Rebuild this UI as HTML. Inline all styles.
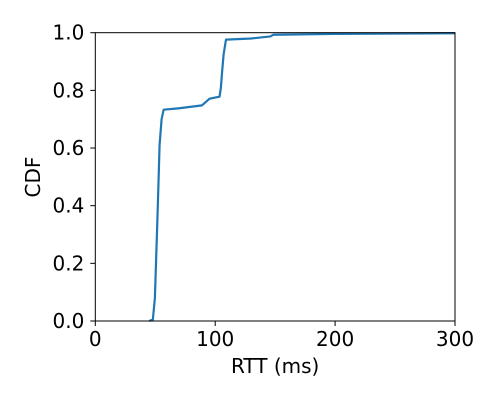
<!DOCTYPE html>
<html><head><meta charset="utf-8"><style>
html,body{margin:0;padding:0;background:#fff;}
svg{display:block;font-family:"DejaVu Sans","Liberation Sans",sans-serif;}
</style></head><body>
<svg id="chart" width="500" height="400">
<g id="plot"></g>
</svg>
<script>
const xValues=[45,48,49.7,52,53.6,55.3,57,70,89,95.3,103.6,104.7,105.8,107,109,130,146,148.6,200,300];
const yValues=[0,0.005,0.08,0.38,0.61,0.70,0.733,0.738,0.748,0.771,0.778,0.808,0.866,0.924,0.976,0.98,0.987,0.993,0.996,0.998];
const xTicks=[0,100,200,300];
const yTicks=["0.0","0.2","0.4","0.6","0.8","1.0"];
const L=95.3,R=455,T=32.7,B=321;
const sx=v=>L+(v-0)/(300-0)*(R-L);
const sy=v=>B-(v-0)/(1-0)*(B-T);
const NS="http://www.w3.org/2000/svg";
const g=document.getElementById('plot');
function mk(tag,attrs,parent){const e=document.createElementNS(NS,tag);for(const k in attrs)e.setAttribute(k,attrs[k]);(parent||g).appendChild(e);return e;}
let d=xValues.map((x,i)=>(i?'L':'M')+sx(x).toFixed(2)+','+sy(yValues[i]).toFixed(2)).join(' ');
const line=mk('path',{d:d,fill:'none',stroke:'#1f77b4','stroke-width':2.2,'stroke-linejoin':'round'});


const frame=mk('rect',{x:L,y:T,width:R-L,height:B-T,fill:'none',stroke:'#000','stroke-width':1});


xTicks.forEach(v=>{
  mk('line',{x1:sx(v),x2:sx(v),y1:B,y2:B+5,stroke:'#000'});
  const t=mk('text',{x:sx(v),y:B+25,'text-anchor':'middle','font-size':20,fill:'#000'});
  t.textContent=v;
  
  
});
yTicks.forEach(s=>{
  const v=parseFloat(s);
  mk('line',{x1:L-5,x2:L,y1:sy(v),y2:sy(v),stroke:'#000'});
  const t=mk('text',{x:L-11,y:sy(v)+7,'text-anchor':'end','font-size':20,fill:'#000'});
  t.textContent=s;
  
  
});
const xt=mk('text',{x:(L+R)/2,y:373,'text-anchor':'middle','font-size':20,fill:'#000'});
xt.textContent='RTT (ms)';


const yt=mk('text',{x:0,y:0,'text-anchor':'middle','font-size':20,fill:'#000',transform:'translate(40,177) rotate(-90)'});
yt.textContent='CDF';


</script>
</body></html>
